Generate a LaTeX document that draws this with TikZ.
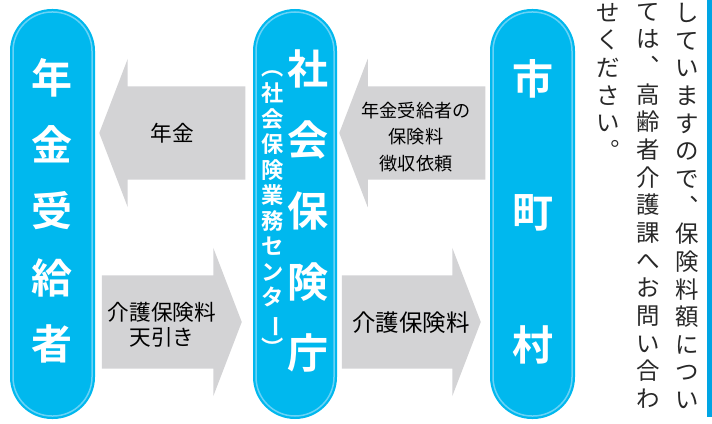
\documentclass[tikz,border=0pt]{standalone}
\usepackage{fontspec}
\usetikzlibrary{shapes,arrows,positioning}
\newfontfamily\gothic{Noto Sans CJK JP}[BoldFont={Noto Sans CJK JP Bold}]
\definecolor{pill-bl}{RGB}{0, 184, 238}
\definecolor{pill-li}{RGB}{105, 210, 246}
\definecolor{arrow-gr}{RGB}{211, 211, 213}
\definecolor{note-tx}{RGB}{40, 40, 40}
\definecolor{rule-bl}{RGB}{0, 165, 228}
\newlength{\px}
\setlength{\px}{0.03cm}
\tikzstyle{pill}=[rectangle,fill=pill-bl,rounded corners=42\px,minimum width=85\px,minimum height=410\px,inner sep=0pt]
\tikzstyle{rim}=[rectangle,draw=pill-li,line width=1.5\px,rounded corners=39\px,minimum width=79\px,minimum height=404\px,inner sep=0pt]
\tikzstyle{big}=[text=white,align=center,inner sep=0pt,font=\gothic\bfseries\fontsize{35}{56.8}\selectfont]
\tikzstyle{blk}=[single arrow,fill=arrow-gr,anchor=tip,inner xsep=0pt,inner ysep=46.5\px,minimum width=148\px,single arrow head extend=27.5\px,single arrow tip angle=138]
\tikzstyle{lbl}=[align=center,inner sep=0pt,text=black,font=\gothic\fontsize{18.5}{21.3}\selectfont]
\tikzstyle{col}=[anchor=north,align=center,inner sep=0pt,text=note-tx,font=\gothic\fontsize{20}{23.6}\selectfont]

\begin{document}
\begin{tikzpicture}[x=0.03cm,y=-0.03cm]
  \useasboundingbox (0,0) rectangle (712,423);

  % pills
  \node[pill] at (52.5,214) (gen) {};
  \node[rim] at (gen.center) (gen-rim) {};
  \node[big] at (52.5,211) (gen-tx) {年\\金\\受\\給\\者};

  \node[pill,minimum width=84\px] at (295,214) (cen) {};
  \node[rim,minimum width=78\px] at (cen.center) (cen-rim) {};
  \node[big,font=\gothic\bfseries\fontsize{35}{60.6}\selectfont] at (308,211) (cen-tx) {社\\会\\保\\険\\庁};
  \node[align=center,inner sep=0pt,text=white,font=\gothic\bfseries\fontsize{19}{21.8}\selectfont] at (273,214) (cen-sub) {︵\\社\\会\\保\\険\\業\\務\\セ\\ン\\タ\\\rotatebox[origin=c]{-90}{ー}\\︶};

  \node[pill] at (532.5,214) (mun) {};
  \node[rim] at (mun.center) (mun-rim) {};
  \node[big] at (532.5,212) (mun-tx) {市\\ \\町\\ \\村};

  % block arrows
  \node[blk,minimum height=146\px,shape border rotate=180] at (99,133) (pens) {};
  \node[lbl] at (172,133) (pens-tx) {年金};

  \node[blk,minimum height=140\px] at (242,322) (ded) {};
  \node[lbl] at (162,325) (ded-tx) {介護保険料\\天引き};

  \node[blk,minimum height=146\px,shape border rotate=180] at (339,133) (req) {};
  \node[lbl,font=\gothic\fontsize{15.5}{22.6}\selectfont] at (416,137) (req-tx) {年金受給者の\\保険料\\徴収依頼};

  \node[blk,minimum height=139\px] at (481,322) (prem) {};
  \node[lbl,font=\gothic\fontsize{20}{22}\selectfont] at (411,323) (prem-tx) {介護保険料};

  % note column
  \node[col] at (687,3) (note1) {し\\て\\い\\ま\\す\\の\\で\\︑\\保\\険\\料\\額\\に\\つ\\い};
  \node[col] at (648,3) (note2) {て\\は\\︑\\高\\齢\\者\\介\\護\\課\\へ\\お\\問\\い\\合\\わ};
  \node[col] at (608,3) (note3) {せ\\く\\だ\\さ\\い\\︒};
  \fill[rule-bl] (707,0) rectangle (712,417);

\end{tikzpicture}
\end{document}
